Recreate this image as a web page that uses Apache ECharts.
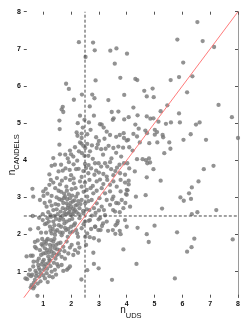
<!DOCTYPE html>
<html><head><meta charset="utf-8">
<script src="https://cdn.jsdelivr.net/npm/echarts@6/dist/echarts.min.js"></script>
<style>html,body{margin:0;padding:0;background:#fff}#c{width:252px;height:328px}</style>
</head><body><div id="c"></div>
<script>
// axis settings (values)
const axisRange = [0.3, 8];
const tickValues = [1, 2, 3, 4, 5, 6, 7, 8];
const yLabelValues = [1, 2, 3, 5, 6, 7, 8];
const shiftedYLabel = [4];
const splitValue = 2.5;
// galaxies: [n_UDS, n_CANDELS]
const topScatter = [[2.28,7.18],[2.79,7.17],[2.85,6.96],[3.41,6.95],[3.63,7.01],[2.52,6.78],[3.57,6.60],[4.01,6.87],[1.82,6.06],[1.92,5.92],[2.88,6.15],[3.77,6.22],[4.31,6.19],[4.38,6.16],[2.39,5.77],[2.76,5.77],[2.84,5.67],[2.10,5.63],[3.34,5.62],[3.91,5.76],[4.63,5.87],[4.93,5.93],[4.72,5.72],[4.97,5.70],[1.70,5.44],[1.66,5.37],[1.72,5.30],[2.67,5.45],[3.46,5.30],[3.70,5.31],[4.24,5.42],[6.54,7.72],[5.82,7.25],[6.73,7.21],[7.14,7.05],[6.03,6.63],[5.58,6.16],[5.88,6.24],[6.36,6.26],[6.17,5.83],[5.46,5.48],[7.30,5.49],[5.22,5.32],[5.88,5.26]];
const bandB = [[2.32,5.20],[2.82,5.20],[2.48,5.09],[3.53,5.13],[3.50,5.09],[3.91,5.10],[4.07,5.16],[4.39,5.21],[4.72,5.18],[4.85,5.12],[4.96,5.13],[5.14,5.04],[5.41,4.98],[5.59,5.02],[5.91,5.02],[6.49,4.96],[6.62,5.02],[7.78,5.16],[3.10,4.96],[2.64,5.02],[2.24,5.00],[1.58,5.07],[1.59,4.84],[2.42,4.88],[2.20,4.75],[2.38,4.72],[2.58,4.70],[2.23,4.66],[2.38,4.60],[3.40,4.68],[3.62,4.63],[3.75,4.68],[3.89,4.73],[3.28,4.77],[3.04,4.97],[3.17,4.88],[3.90,4.60],[4.31,4.96],[4.43,4.85],[4.24,4.71],[4.37,4.64],[4.67,4.80],[4.73,4.73],[5.01,4.82],[5.09,4.76],[5.01,4.69],[5.29,4.68],[5.31,4.62],[4.05,4.55],[4.00,4.53],[6.04,4.55],[6.30,4.70],[6.85,4.55],[8.00,4.60],[3.00,4.52],[2.90,4.62],[2.70,4.82],[3.20,4.58]];
const bandC = [[1.36,4.06],[1.58,4.42],[1.60,4.16],[1.96,4.26],[1.79,4.15],[2.00,4.16],[2.08,4.10],[2.28,4.24],[2.37,4.45],[2.44,4.39],[2.51,4.33],[2.58,4.44],[2.39,4.19],[2.68,4.24],[2.78,4.04],[2.96,4.43],[2.92,4.33],[3.08,4.30],[3.24,4.31],[3.35,4.39],[3.52,4.33],[3.70,4.37],[3.87,4.34],[4.09,4.35],[4.21,4.26],[4.37,4.03],[4.57,4.03],[4.69,4.00],[4.80,4.05],[4.47,4.48],[4.81,4.46],[5.10,4.48],[5.53,4.48],[5.57,4.31],[5.35,4.19],[2.32,4.48],[2.48,4.12],[2.14,4.35],[2.75,4.40],[3.15,4.15],[3.45,4.05],[3.62,4.20],[3.80,4.10],[1.88,4.05],[2.62,4.12]];
const bandD = [[1.42,3.88],[1.64,3.88],[1.92,3.95],[2.09,3.89],[2.22,3.99],[1.55,3.70],[1.70,3.72],[1.80,3.78],[1.95,3.74],[2.18,3.76],[2.27,3.77],[2.44,3.71],[2.54,3.79],[2.63,3.87],[2.86,3.92],[2.99,3.92],[3.08,3.83],[3.22,3.92],[3.30,3.83],[3.44,3.76],[3.59,3.71],[3.74,3.88],[3.90,3.92],[4.02,3.92],[4.09,3.78],[4.29,3.70],[2.62,3.65],[2.84,3.61],[3.00,3.67],[3.16,3.63],[3.28,3.56],[3.52,3.60],[3.76,3.65],[3.94,3.61],[4.84,3.94],[4.74,3.92],[4.96,3.76],[4.72,3.54],[6.77,3.76],[7.12,3.85],[1.49,3.52],[1.80,3.52],[2.09,3.51],[2.38,3.55],[2.72,3.78],[3.40,3.95],[3.65,3.80],[2.90,3.72],[1.22,3.62],[1.30,3.85],[2.00,3.60],[2.50,3.90]];
const bandE = [[0.61,3.23],[1.00,3.16],[1.09,3.23],[1.22,3.34],[1.27,3.47],[1.43,3.25],[1.55,3.18],[1.67,3.45],[1.83,3.29],[1.96,3.47],[2.02,3.22],[2.16,3.25],[2.32,3.43],[2.38,3.29],[2.50,3.40],[2.56,3.20],[2.66,3.47],[2.78,3.31],[2.92,3.43],[3.04,3.48],[3.16,3.36],[3.30,3.47],[3.40,3.34],[3.52,3.43],[3.64,3.29],[3.78,3.47],[3.94,3.40],[4.07,3.45],[4.00,3.20],[3.78,3.16],[3.40,3.16],[3.22,3.11],[2.92,3.18],[2.80,3.11],[3.97,3.09],[4.03,3.19],[4.07,3.35],[5.22,3.45],[6.58,3.43],[6.34,3.27],[6.24,3.11],[0.64,3.02],[1.01,3.04],[1.30,3.04],[1.48,3.00],[1.78,3.02],[2.18,3.02],[2.58,3.02],[3.52,3.02],[4.00,3.07],[4.33,3.02],[4.68,3.06],[5.93,3.00],[1.36,3.40],[1.60,3.35],[1.75,3.10],[1.92,3.08],[2.04,3.05],[2.24,3.10],[1.64,3.15],[1.85,3.18],[2.10,3.38],[2.45,3.15],[2.70,3.25],[1.15,3.10],[3.10,3.25]];
const bandF = [[0.88,2.93],[1.12,2.75],[1.24,2.89],[1.36,2.66],[1.54,2.80],[1.66,2.93],[1.70,2.71],[1.84,2.84],[1.90,2.57],[1.96,2.98],[2.00,2.75],[2.06,2.89],[2.10,2.62],[2.22,2.80],[2.30,2.71],[2.38,2.93],[2.44,2.57],[2.51,2.84],[2.66,2.66],[2.74,2.93],[2.82,2.71],[2.92,2.84],[3.02,2.98],[3.10,2.75],[3.18,2.66],[3.28,2.93],[3.40,2.80],[3.58,2.62],[3.70,2.84],[3.82,2.93],[3.88,2.71],[4.12,2.75],[6.05,2.91],[6.31,2.96],[5.27,2.70],[6.34,2.55],[6.54,2.60],[7.22,2.66],[1.62,2.62],[1.68,2.50],[1.72,2.85],[1.80,2.68],[1.86,2.95],[1.88,2.72],[1.94,2.60],[1.98,2.85],[2.02,2.52],[2.08,2.70],[2.12,2.92],[2.16,2.78],[2.20,2.60],[2.26,2.90],[1.58,2.95],[1.76,2.58],[1.90,2.78],[2.06,2.55],[2.28,2.55],[1.52,2.55],[1.44,2.82],[1.40,2.50],[0.98,2.55],[1.05,2.85],[1.18,2.60],[1.30,2.78],[1.48,2.68],[2.34,2.82],[2.56,2.68],[2.62,2.90],[2.88,2.58],[3.00,2.65],[3.22,2.52],[3.48,2.95],[3.62,2.85],[3.75,2.60],[3.95,2.85],[1.26,2.52],[1.82,2.55],[2.14,2.66],[1.74,2.98],[1.96,2.68],[2.43,2.64],[3.51,2.66],[2.75,2.51]];
const bandG = [[0.53,2.14],[0.82,2.17],[0.98,2.39],[1.06,2.28],[1.15,2.44],[1.24,2.21],[1.30,2.03],[1.36,2.35],[1.42,1.99],[1.50,2.12],[1.58,2.39],[1.64,2.21],[1.70,2.05],[1.76,2.30],[1.82,2.12],[1.94,2.39],[2.00,2.21],[2.06,2.08],[2.14,2.30],[2.22,2.03],[2.30,2.44],[2.38,2.17],[2.50,2.35],[2.58,2.03],[2.68,2.39],[2.86,2.21],[2.98,2.12],[3.04,2.44],[3.28,2.35],[3.50,2.12],[3.94,2.39],[4.00,2.21],[4.39,2.18],[4.72,2.01],[5.00,2.24],[5.81,2.06],[8.01,2.03],[1.10,2.05],[1.20,2.35],[1.28,2.48],[1.34,2.15],[1.40,2.25],[1.46,2.42],[1.56,2.25],[1.62,2.45],[1.66,1.98],[1.72,2.40],[1.78,2.18],[1.84,2.35],[1.90,2.15],[1.96,2.05],[2.04,2.42],[2.10,2.25],[2.18,2.12],[1.12,2.30],[1.26,2.10],[1.44,2.08],[1.60,2.06],[0.62,2.50],[0.92,2.05],[0.85,2.45],[2.72,2.15],[3.15,2.30],[3.60,2.25],[3.75,2.10],[2.45,2.28],[2.87,2.21],[3.06,2.12],[3.33,2.10],[2.99,2.41],[2.63,2.37],[3.11,2.23],[3.66,2.30],[3.68,2.36],[3.59,2.02],[3.78,2.01]];
const bandH = [[1.88,1.94],[2.25,1.94],[2.51,1.94],[2.67,1.93],[2.82,1.90],[3.00,1.84],[2.25,1.76],[2.30,1.65],[2.25,1.51],[0.40,1.41],[0.62,1.43],[0.70,1.67],[0.80,1.84],[0.88,1.58],[0.94,1.74],[1.00,1.49],[1.06,1.63],[1.12,1.84],[1.18,1.41],[1.24,1.72],[1.30,1.54],[1.36,1.81],[1.42,1.63],[1.48,1.45],[1.54,1.76],[1.60,1.58],[1.72,1.67],[1.84,1.81],[1.90,1.49],[2.02,1.72],[2.14,1.58],[2.54,1.72],[2.80,1.51],[3.88,1.60],[4.79,1.80],[0.84,1.35],[0.92,1.45],[0.98,1.70],[1.02,1.32],[1.08,1.50],[1.10,1.75],[1.14,1.58],[1.16,1.88],[1.20,1.52],[1.22,1.33],[1.26,1.62],[1.28,1.85],[1.32,1.42],[1.34,1.70],[1.38,1.50],[1.40,1.88],[1.44,1.35],[1.46,1.72],[1.50,1.60],[1.56,1.48],[1.62,1.78],[1.66,1.40],[1.76,1.55],[0.96,1.88],[1.04,1.80],[1.78,1.35],[1.96,1.65],[2.08,1.45],[0.75,1.63],[0.70,1.80],[6.43,1.89],[6.33,1.66],[6.17,1.54],[7.81,1.87],[0.55,1.43],[0.65,1.27]];
const bandI = [[0.36,0.82],[0.42,0.80],[0.52,1.05],[0.58,0.64],[0.64,1.14],[0.70,0.78],[0.76,0.96],[0.82,1.18],[0.86,0.87],[0.88,1.05],[0.91,0.96],[0.98,1.27],[1.04,1.14],[1.12,0.96],[1.18,1.23],[1.30,1.00],[1.42,1.05],[1.54,1.14],[1.66,1.18],[1.90,1.09],[1.96,1.14],[2.37,0.79],[2.58,1.04],[2.82,1.21],[2.99,1.09],[3.47,0.78],[4.35,1.21],[5.73,0.82],[0.64,0.55],[0.79,0.35],[0.66,0.70],[0.72,1.02],[0.74,0.88],[0.80,0.68],[0.84,1.10],[0.90,0.74],[0.94,1.20],[1.00,0.90],[1.02,1.05],[1.06,0.82],[1.08,1.20],[1.14,1.08],[1.22,0.88],[1.26,1.15],[1.34,0.85],[1.38,1.24],[1.46,0.92],[1.50,1.20],[0.56,0.88],[0.68,0.60],[0.60,0.92],[1.16,0.72],[1.24,1.30],[0.78,1.28],[0.48,0.92],[0.55,0.58],[1.72,1.02],[1.85,1.05]];

const galaxies = [].concat(topScatter, bandB, bandC, bandD, bandE, bandF, bandG, bandH, bandI);

const fam = 'Liberation Sans, Arial, sans-serif';
const labelFont = { fontFamily: fam, fontSize: 7, fontWeight: 'bold', color: '#111' };
const tickStyle = { show: true, inside: true, length: 3, customValues: tickValues, lineStyle: { color: '#555', width: 1 } };
const nameRich = {
  n: { fontSize: 10, fontFamily: fam, color: '#111', verticalAlign: 'top', lineHeight: 11 },
  s: { fontSize: 7.5, fontFamily: fam, color: '#111', verticalAlign: 'top', padding: [6, 0, 0, 0] }
};

const chart = echarts.init(document.getElementById('c'), null, { renderer: 'canvas' });
chart.setOption({
  animation: false,
  backgroundColor: '#fff',
  grid: { left: 23.8, right: 14, top: 11.7, bottom: 30.3, containLabel: false, outerBoundsMode: 'none' },
  xAxis: [{
    type: 'value', min: axisRange[0], max: axisRange[1], position: 'bottom',
    axisLine: { show: false }, splitLine: { show: false },
    axisTick: tickStyle,
    axisLabel: Object.assign({ customValues: tickValues, margin: 3 }, labelFont),
    name: '{n|n}{s|UDS}', nameLocation: 'middle', nameGap: 8, nameMoveOverlap: false,
    nameTextStyle: { fontFamily: fam, color: '#111', rich: nameRich }
  }, {
    type: 'value', min: axisRange[0], max: axisRange[1], position: 'top',
    axisLine: { show: false }, splitLine: { show: false },
    axisTick: tickStyle, axisLabel: { show: false }
  }],
  yAxis: [{
    type: 'value', min: axisRange[0], max: axisRange[1], position: 'left',
    axisLine: { show: false }, splitLine: { show: false },
    axisTick: tickStyle,
    axisLabel: Object.assign({ customValues: yLabelValues, margin: 3 }, labelFont)
  }, {
    type: 'value', min: axisRange[0], max: axisRange[1], position: 'right',
    axisLine: { show: true, lineStyle: { color: '#9a9a9a', width: 1 } }, splitLine: { show: false },
    axisTick: tickStyle, axisLabel: { show: false }
  }, {
    type: 'value', min: axisRange[0], max: axisRange[1], position: 'left', offset: 0,
    axisLine: { show: false }, splitLine: { show: false },
    axisTick: { show: false }, axisLabel: { show: false },
    name: '{n|n}{s|CANDELS}', nameLocation: 'middle', nameGap: 3, nameRotate: 90, nameMoveOverlap: false,
    nameTextStyle: { fontFamily: fam, color: '#111', rich: nameRich }
  }, {
    type: 'value', min: axisRange[0], max: axisRange[1], position: 'left', offset: -6,
    axisLine: { show: false }, splitLine: { show: false },
    axisTick: { show: false },
    axisLabel: Object.assign({ customValues: shiftedYLabel, margin: 3 }, labelFont)
  }],
  series: [{
    type: 'scatter', data: galaxies, symbolSize: 4.3,
    itemStyle: { color: '#777777' }, z: 2
  }, {
    type: 'line', data: [[splitValue, axisRange[0]], [splitValue, axisRange[1]]], symbol: 'none',
    lineStyle: { color: '#444', width: 1, type: [3, 2] }, z: 3
  }, {
    type: 'line', data: [[axisRange[0], splitValue], [axisRange[1], splitValue]], symbol: 'none',
    lineStyle: { color: '#444', width: 1, type: [3, 2] }, z: 3
  }, {
    type: 'line', data: [[axisRange[0], axisRange[0]], [axisRange[1], axisRange[1]]], symbol: 'none',
    lineStyle: { color: '#ff6b6b', width: 0.9 }, z: 4
  }]
});
</script></body></html>
